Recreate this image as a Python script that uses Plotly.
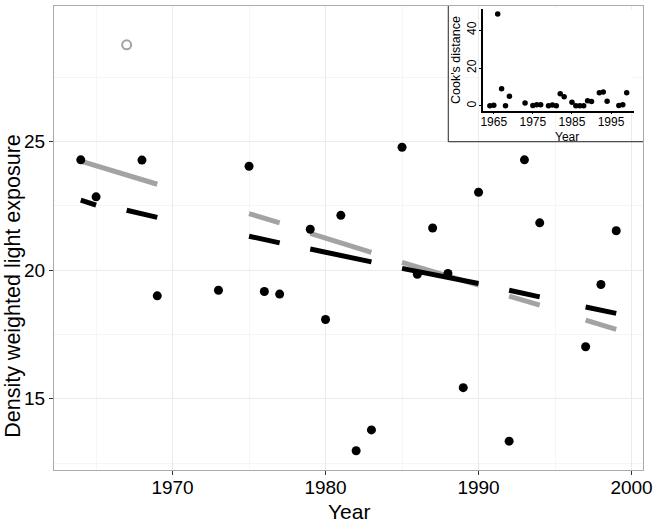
import plotly.graph_objects as go

# main scatter: density weighted light exposure by year
years = [1964, 1965, 1968, 1969, 1973, 1975, 1976, 1977, 1979, 1980, 1981, 1982, 1983,
         1985, 1986, 1987, 1988, 1989, 1990, 1992, 1993, 1994, 1997, 1998, 1999]
exposure = [24.29, 22.85, 24.28, 19.0, 19.22, 24.04, 19.17, 19.07, 21.59, 18.08, 22.13, 12.98, 13.79,
            24.78, 19.84, 21.64, 19.87, 15.43, 23.03, 13.35, 24.29, 21.84, 17.02, 19.44, 21.53]

# the outlying year (open gray circle)
outlier_year = [1967]
outlier_exposure = [28.76]

# fitted segments without the outlier (black)
black_start = [1964, 1967, 1975, 1979, 1985, 1992, 1997]
black_end = [1965, 1969, 1977, 1983, 1990, 1994, 1999]
black_y0 = [22.72, 22.33, 21.32, 20.82, 20.07, 19.22, 18.57]
black_y1 = [22.53, 22.05, 21.06, 20.32, 19.48, 18.96, 18.32]

# fitted segments with the outlier (gray)
gray_start = [1964, 1975, 1979, 1985, 1992, 1997]
gray_end = [1969, 1977, 1983, 1990, 1994, 1999]
gray_y0 = [24.24, 22.2, 21.43, 20.3, 18.99, 18.06]
gray_y1 = [23.34, 21.84, 20.69, 19.42, 18.64, 17.70]

# inset: Cook's distance
cook_years = [1964, 1965, 1966, 1967, 1968, 1969, 1973, 1975, 1976, 1977, 1979, 1980, 1981, 1982,
              1983, 1985, 1986, 1987, 1988, 1989, 1990, 1992, 1993, 1994, 1997, 1998, 1999]
cook_d = [0.1, 0.4, 48.5, 9.1, 0.1, 5.1, 1.6, 0.2, 0.6, 0.6, 0.1, 0.5, 0.1, 6.5,
          4.8, 1.9, 0.1, 0.1, 0.1, 2.7, 2.3, 7.0, 7.3, 2.5, 0.2, 0.6, 7.0]

main_xticks = [1970, 1980, 1990, 2000]
main_yticks = [15, 20, 25]
inset_xticks = [1965, 1975, 1985, 1995]
inset_yticks = [0, 20, 40]

FONT = "Liberation Sans, Arial, sans-serif"


def segs(x0, x1, y0, y1):
    xs, ys = [], []
    for a, b, c, d in zip(x0, x1, y0, y1):
        xs += [a, b, None]
        ys += [c, d, None]
    return xs, ys


gx, gy = segs(gray_start, gray_end, gray_y0, gray_y1)
bx, by = segs(black_start, black_end, black_y0, black_y1)

fig = go.Figure()
fig.add_trace(go.Scatter(x=gx, y=gy, mode="lines", line=dict(color="#a3a3a3", width=5),
                         hoverinfo="skip"))
fig.add_trace(go.Scatter(x=bx, y=by, mode="lines", line=dict(color="black", width=5),
                         hoverinfo="skip"))
fig.add_trace(go.Scatter(x=years, y=exposure, mode="markers",
                         marker=dict(color="black", size=9)))
fig.add_trace(go.Scatter(x=outlier_year, y=outlier_exposure, mode="markers",
                         marker=dict(symbol="circle-open", color="#a3a3a3", size=9,
                                     line=dict(width=2, color="#a3a3a3"))))
fig.add_trace(go.Scatter(x=cook_years, y=cook_d, mode="markers", xaxis="x2", yaxis="y2",
                         marker=dict(color="black", size=5.5)))

fig.update_layout(
    width=658, height=524,
    margin=dict(l=54, r=15, t=6, b=54),
    paper_bgcolor="white", plot_bgcolor="white",
    showlegend=False,
    font=dict(family=FONT, color="black"),
    xaxis=dict(range=[1962.25, 2000.75], tickvals=main_xticks,
               showgrid=True, gridcolor="#ebebeb", gridwidth=1,
               minor=dict(tickvals=[1965, 1975, 1985, 1995], showgrid=True,
                          gridcolor="#f5f5f5", gridwidth=0.6),
               showline=True, mirror=True, linecolor="#ababab", linewidth=1.3,
               ticks="outside", ticklen=4, tickcolor="#333333", ticklabelstandoff=-4,
               tickfont=dict(size=19), zeroline=False),
    yaxis=dict(range=[12.23, 30.27], tickvals=main_yticks,
               showgrid=True, gridcolor="#ebebeb", gridwidth=1,
               minor=dict(tickvals=[12.5, 17.5, 22.5, 27.5], showgrid=True,
                          gridcolor="#f5f5f5", gridwidth=0.6),
               showline=True, mirror=True, linecolor="#ababab", linewidth=1.3,
               ticks="outside", ticklen=4, tickcolor="#333333",
               tickfont=dict(size=19), zeroline=False),
    xaxis2=dict(domain=[0.7284, 0.9839], anchor="y2", range=[1962.25, 2000.75],
                tickvals=inset_xticks, showgrid=False, zeroline=False,
                showline=True, linecolor="black", linewidth=1.5,
                ticks="outside", ticklen=2, tickcolor="black", ticklabelstandoff=-3,
                tickfont=dict(size=12)),
    yaxis2=dict(domain=[0.7746, 0.9927], anchor="x2", range=[-2.43, 50.9],
                tickvals=inset_yticks, showgrid=False, zeroline=False,
                showline=True, linecolor="black", linewidth=1.5,
                ticks="outside", ticklen=2, tickcolor="black", tickangle=-90,
                ticklabelstandoff=-2, tickfont=dict(size=12)),
    shapes=[
        dict(type="line", xref="paper", yref="paper", x0=0.6694, x1=0.6694, y0=0.7075, y1=1,
             line=dict(color="#222222", width=1)),
        dict(type="line", xref="paper", yref="paper", x0=0.6694, x1=1, y0=0.7075, y1=0.7075,
             line=dict(color="#222222", width=1)),
    ],
    annotations=[
        dict(text="Year", xref="paper", yref="paper", x=0.5, y=-0.0884,
             xanchor="center", yanchor="middle", showarrow=False, font=dict(size=21)),
        dict(text="Density weighted light exposure", xref="paper", yref="paper",
             x=-0.0688, y=0.398, textangle=-90, xanchor="center", yanchor="middle",
             showarrow=False, font=dict(size=21.5)),
        dict(text="Cook's distance", xref="paper", yref="paper", x=0.6825, y=0.8836,
             textangle=-90, xanchor="center", yanchor="middle", showarrow=False,
             font=dict(size=12.5)),
        dict(text="Year", xref="paper", yref="paper", x=0.871, y=0.7185,
             xanchor="center", yanchor="middle", showarrow=False, font=dict(size=12)),
    ],
)

# the page opens with the browser's default 8px body margin; drop it
fig.write_html("out.html", post_script="document.body.style.margin='0';",
               config={"displayModeBar": False})
